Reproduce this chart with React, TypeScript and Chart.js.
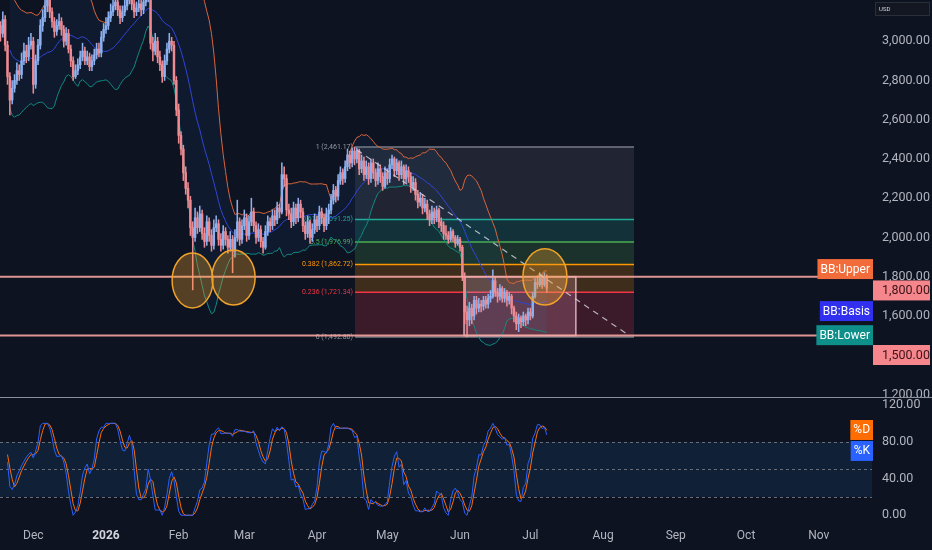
import { useEffect, useRef } from "react";
import { Chart, registerables } from "chart.js";
Chart.register(...registerables);

// ---------------- DATA ----------------
// Daily candles, day index 0 = 1 Jan 2026
const START_DAY = -46;
const FIRST_OPEN = 3050;
const closes = [
  3080, 3040, 3110, 2980, 2820, 2700, 2760, 2800, 2850, 2830,
  2900, 2950, 2920, 2980, 3000, 2780, 2900, 2980, 3080, 3120,
  3180, 3220, 3150, 3100, 3050, 3080, 3100, 3060, 3000, 3040,
  2960, 2900, 2820, 2850, 2880, 2920, 2950, 2900, 2920, 2870,
  2900, 2930, 2960, 2940, 3020, 3060, 3080, 3120, 3150, 3180,
  3200, 3160, 3120, 3150, 3180, 3210, 3230, 3190, 3150, 3170,
  3190, 3160, 3200, 3220, 3230, 2990, 2950, 3000, 2920, 2880,
  2820, 2900, 2960, 3000, 2980, 2800, 2650, 2520, 2450, 2330,
  2250, 2190, 2050, 2000, 2100, 2050, 2120, 2020, 1980, 2080,
  2010, 1960, 2050, 2070, 1990, 1960, 2030, 1990, 1950, 1990,
  1930, 2000, 2080, 1990, 2060, 2100, 2010, 2080, 2130, 2060,
  2000, 2040, 1980, 1950, 2030, 2080, 2060, 2110, 2090, 2150,
  2130, 2320, 2300, 2140, 2120, 2080, 2150, 2100, 2170, 2130,
  2060, 2020, 2080, 2000, 2040, 2090, 2060, 2130, 2100, 2060,
  2120, 2140, 2190, 2240, 2210, 2290, 2330, 2300, 2360, 2420,
  2380, 2440, 2400, 2440, 2350, 2390, 2320, 2360, 2300, 2380,
  2330, 2290, 2350, 2310, 2260, 2330, 2300, 2370, 2400, 2340,
  2380, 2320, 2360, 2300, 2340, 2310, 2260, 2280, 2220, 2180,
  2200, 2150, 2170, 2120, 2090, 2130, 2100, 2140, 2080, 2060, 2020,
  2010, 1990, 2030, 2000, 1970, 1990, 1950, 1800, 1620, 1580,
  1640, 1600, 1680, 1640, 1660, 1650, 1680, 1660, 1690, 1700,
  1780, 1720, 1700, 1740, 1690, 1720, 1680, 1700, 1640, 1600,
  1560, 1590, 1570, 1600, 1580, 1620, 1600, 1700, 1770, 1760,
  1790, 1760, 1800, 1740,
];
const highs = [
  3120, 3100, 3150, 3130, 3000, 2840, 2800, 2830, 2890, 2880,
  2940, 2990, 2980, 3020, 3040, 3020, 2930, 3010, 3110, 3160,
  3230, 3260, 3240, 3170, 3120, 3110, 3140, 3120, 3080, 3070,
  3060, 2980, 2920, 2880, 2910, 2950, 2990, 2970, 2950, 2940,
  2930, 2960, 2990, 2990, 3050, 3090, 3120, 3150, 3190, 3220,
  3240, 3220, 3180, 3180, 3210, 3250, 3270, 3250, 3210, 3200,
  3220, 3210, 3230, 3260, 3270, 3250, 3020, 3040, 3020, 2950,
  2900, 2930, 2990, 3040, 3020, 3000, 2820, 2680, 2540, 2470,
  2360, 2280, 2210, 2080, 2150, 2130, 2160, 2140, 2050, 2110,
  2100, 2040, 2090, 2110, 2090, 2020, 2060, 2050, 2010, 2030,
  2010, 2040, 2190, 2100, 2090, 2140, 2120, 2110, 2200, 2150,
  2080, 2070, 2060, 2000, 2060, 2110, 2100, 2140, 2140, 2180,
  2170, 2380, 2360, 2320, 2170, 2150, 2180, 2170, 2200, 2190,
  2150, 2080, 2110, 2090, 2070, 2120, 2110, 2160, 2150, 2120,
  2150, 2170, 2220, 2270, 2260, 2320, 2360, 2350, 2390, 2450,
  2440, 2455, 2461, 2455, 2450, 2420, 2410, 2390, 2380, 2400,
  2400, 2350, 2380, 2370, 2330, 2360, 2350, 2400, 2420, 2410,
  2400, 2390, 2390, 2370, 2370, 2360, 2330, 2310, 2300, 2240,
  2230, 2220, 2200, 2190, 2140, 2160, 2150, 2160, 2150, 2100, 2080,
  2060, 2030, 2050, 2040, 2010, 2010, 2000, 1960, 1820, 1650,
  1670, 1660, 1700, 1700, 1690, 1680, 1700, 1700, 1710, 1730,
  1835, 1800, 1740, 1760, 1750, 1740, 1730, 1720, 1710, 1650,
  1620, 1610, 1600, 1620, 1610, 1640, 1640, 1720, 1790, 1800,
  1820, 1810, 1820, 1810,
];
const lows = [
  3020, 3000, 3020, 2950, 2780, 2625, 2680, 2740, 2780, 2800,
  2810, 2880, 2890, 2900, 2960, 2735, 2760, 2880, 2960, 3050,
  3100, 3150, 3120, 3070, 3020, 3030, 3060, 3030, 2970, 2980,
  2940, 2870, 2800, 2810, 2830, 2860, 2900, 2880, 2880, 2850,
  2850, 2880, 2910, 2920, 2920, 3000, 3040, 3060, 3100, 3130,
  3160, 3130, 3090, 3100, 3130, 3160, 3190, 3160, 3120, 3130,
  3150, 3130, 3140, 3180, 3200, 2960, 2900, 2930, 2890, 2850,
  2790, 2800, 2880, 2940, 2950, 2780, 2620, 2480, 2420, 2290,
  2220, 2150, 2010, 1733, 1980, 2020, 2030, 1990, 1950, 1960,
  1980, 1930, 1940, 2030, 1960, 1930, 1940, 1960, 1920, 1930,
  1820, 1900, 1980, 1960, 1970, 2040, 1980, 1990, 2060, 2030,
  1970, 1980, 1950, 1920, 1940, 2010, 2030, 2040, 2060, 2070,
  2100, 2120, 2260, 2110, 2090, 2050, 2060, 2070, 2080, 2100,
  2030, 1990, 2000, 1970, 1980, 2020, 2030, 2040, 2070, 2030,
  2040, 2070, 2120, 2170, 2180, 2190, 2270, 2270, 2280, 2340,
  2350, 2360, 2370, 2380, 2320, 2330, 2290, 2300, 2270, 2280,
  2300, 2260, 2270, 2280, 2240, 2250, 2270, 2280, 2350, 2310,
  2320, 2290, 2300, 2270, 2280, 2280, 2230, 2240, 2190, 2150,
  2160, 2120, 2130, 2090, 2060, 2070, 2070, 2080, 2050, 2030, 1990,
  1990, 1970, 1980, 1980, 1950, 1960, 1930, 1780, 1560, 1493,
  1550, 1560, 1580, 1610, 1620, 1620, 1630, 1640, 1640, 1670,
  1690, 1700, 1670, 1680, 1670, 1670, 1650, 1660, 1610, 1570,
  1530, 1520, 1540, 1550, 1550, 1560, 1580, 1590, 1690, 1740,
  1750, 1740, 1750, 1720,
];

const monthTicks = [-31, 0, 31, 59, 90, 120, 151, 181, 212, 243, 273, 304];
const monthLabels = ["Dec", "2026", "Feb", "Mar", "Apr", "May", "Jun", "Jul", "Aug", "Sep", "Oct", "Nov"];
const priceTicks = [1200, 1400, 1600, 1800, 2000, 2200, 2400, 2600, 2800, 3000];
const stochTicks = [0, 40, 80, 120];
const stochBands = [20, 50, 80];

const fibHigh = 2461.17;
const fibLow = 1492.8;
const fibRatios = [1, 0.618, 0.5, 0.382, 0.236, 0];
const fibDays = [106.2, 225.2];
const boxDays = [152.7, 200.4];
const boxValues = [1500, 1800];
const levelLines = [1800, 1500];
const trendDays = [107, 222.2];
const trendValues = [2446, 1508];
const circleDays = [36.9, 54.4, 187.2];
const circleValues = [1781, 1796, 1799];
const circleRadiusDays = [8.7, 9.2, 9.4];
const circleRadiusValues = [140, 140, 143];

// label anchors (display positions of the right-hand tags)
const bbTagTexts = ["BB:Upper", "BB:Basis", "BB:Lower"];
const bbTagValues = [1839, 1625, 1502];
const priceTagTexts = ["1,800.00", "1,500.00"];
const priceTagValues = [1730, 1401];
const stochTagTexts = ["%D", "%K"];
const stochTagValues = [92.8, 70];

// ---------------- STYLE ----------------
const BG = "#0e1322";
const FONT = "Roboto, 'Noto Sans', sans-serif";
const X_MIN = -45.2;
const X_MAX = 326.7;
const AXIS_W = 60;
const UP = "#8db0ee";
const DOWN = "#ee8a91";
const fibColors = ["#787b86", "#22ab94", "#4caf50", "#ff9800", "#f23645", "#787b86"];
const fibFills = ["rgba(120,123,134,0.18)", "rgba(34,171,148,0.2)", "rgba(76,175,80,0.2)", "rgba(255,152,0,0.2)", "rgba(242,54,69,0.2)"];
const bbTagColors = ["#f26b3a", "#3030ee", "#0e8f8a"];
const stochTagColors = ["#ff6d00", "#2962ff"];

const fmt = (v: number) => v.toLocaleString("en-US", { minimumFractionDigits: 2, maximumFractionDigits: 2 });

// ---------------- DERIVED ----------------
const days = closes.map((_, i) => START_DAY + i);
const opens = closes.map((_, i) => (i === 0 ? FIRST_OPEN : closes[i - 1]));
const candleColors = closes.map((c, i) => (c >= opens[i] ? UP : DOWN));
const wickData = closes.map((_, i) => ({ x: days[i], y: [lows[i], highs[i]] }));
const bodyData = closes.map((c, i) => ({ x: days[i], y: [Math.min(opens[i], c), Math.max(opens[i], c)] }));

const bbUpper: any[] = [];
const bbBasis: any[] = [];
const bbLower: any[] = [];
for (let i = 5; i < closes.length; i++) {
  const w = closes.slice(Math.max(0, i - 19), i + 1);
  const m = w.reduce((a, b) => a + b, 0) / w.length;
  const sd = Math.sqrt(w.reduce((a, b) => a + (b - m) * (b - m), 0) / w.length);
  bbUpper.push({ x: days[i], y: m + 2 * sd });
  bbBasis.push({ x: days[i], y: m });
  bbLower.push({ x: days[i], y: m - 2 * sd });
}

const rsi: number[] = [];
{
  let ag = 0;
  let al = 0;
  for (let i = 1; i < closes.length; i++) {
    const ch = closes[i] - closes[i - 1];
    const n = Math.min(i, 14);
    ag = (ag * (n - 1) + Math.max(ch, 0)) / n;
    al = (al * (n - 1) + Math.max(-ch, 0)) / n;
    rsi[i] = al === 0 ? 100 : 100 - 100 / (1 + ag / al);
  }
}
const stoch: number[] = [];
const kArr: number[] = [];
const dArr: number[] = [];
for (let i = 1; i < closes.length; i++) {
  const w = rsi.slice(Math.max(1, i - 13), i + 1);
  const mn = Math.min(...w);
  const mx = Math.max(...w);
  stoch[i] = mx === mn ? 50 : ((rsi[i] - mn) / (mx - mn)) * 100;
  const ks = stoch.slice(Math.max(1, i - 2), i + 1);
  kArr[i] = ks.reduce((a, b) => a + b, 0) / ks.length;
  const ds = kArr.slice(Math.max(1, i - 2), i + 1);
  dArr[i] = ds.reduce((a, b) => a + b, 0) / ds.length;
}
const kData: any[] = [];
const dData: any[] = [];
for (let i = 4; i < closes.length; i++) {
  kData.push({ x: days[i], y: kArr[i] });
  dData.push({ x: days[i], y: dArr[i] });
}

// ---------------- PLUGINS ----------------
function tag(ctx: CanvasRenderingContext2D, text: string, right: number, cy: number, bg: string, fg: string, size: number, padX: number, h: number) {
  ctx.font = `${size}px ${FONT}`;
  const w = ctx.measureText(text).width + padX * 2;
  ctx.fillStyle = bg;
  ctx.fillRect(right - w, cy - h / 2, w, h);
  ctx.fillStyle = fg;
  ctx.textAlign = "center";
  ctx.textBaseline = "middle";
  ctx.fillText(text, right - w / 2, cy + 0.5);
}

const priceBackPlugin = {
  id: "priceBack",
  beforeDatasetsDraw(chart: any) {
    const { ctx, scales } = chart;
    const x = scales.x;
    const y = scales.y;
    const x0 = x.getPixelForValue(fibDays[0]);
    const x1 = x.getPixelForValue(fibDays[1]);
    const lv = fibRatios.map((r) => fibLow + r * (fibHigh - fibLow));
    ctx.save();
    for (let i = 0; i < lv.length - 1; i++) {
      const ya = y.getPixelForValue(lv[i]);
      const yb = y.getPixelForValue(lv[i + 1]);
      ctx.fillStyle = fibFills[i];
      ctx.fillRect(x0, ya, x1 - x0, yb - ya);
    }
    lv.forEach((v, i) => {
      const py = y.getPixelForValue(v);
      ctx.strokeStyle = fibColors[i];
      ctx.lineWidth = 1.5;
      ctx.beginPath();
      ctx.moveTo(x0, py);
      ctx.lineTo(x1, py);
      ctx.stroke();
      ctx.font = `7px ${FONT}`;
      ctx.textAlign = "right";
      ctx.textBaseline = "middle";
      ctx.fillStyle = i === 0 || i === lv.length - 1 ? "#9598a1" : fibColors[i];
      ctx.fillText(`${fibRatios[i]} (${fmt(v)})`, x0 - 2, py);
    });
    // pink range box
    const bx0 = x.getPixelForValue(boxDays[0]);
    const bx1 = x.getPixelForValue(boxDays[1]);
    const by0 = y.getPixelForValue(boxValues[1]);
    const by1 = y.getPixelForValue(boxValues[0]);
    ctx.fillStyle = "rgba(247,165,190,0.22)";
    ctx.fillRect(bx0, by0, bx1 - bx0, by1 - by0);
    ctx.strokeStyle = "rgba(240,195,210,0.85)";
    ctx.lineWidth = 1.5;
    ctx.strokeRect(bx0, by0, bx1 - bx0, by1 - by0);
    ctx.restore();
  },
  afterDatasetsDraw(chart: any) {
    const { ctx, scales } = chart;
    const x = scales.x;
    const y = scales.y;
    ctx.save();
    circleDays.forEach((d, i) => {
      const cx = x.getPixelForValue(d);
      const cy = y.getPixelForValue(circleValues[i]);
      const rx = Math.abs(x.getPixelForValue(d + circleRadiusDays[i]) - cx);
      const ry = Math.abs(y.getPixelForValue(circleValues[i] + circleRadiusValues[i]) - cy);
      ctx.beginPath();
      ctx.ellipse(cx, cy, rx, ry, 0, 0, Math.PI * 2);
      ctx.fillStyle = "rgba(240,163,42,0.32)";
      ctx.fill();
      ctx.strokeStyle = "#f0a32a";
      ctx.lineWidth = 1.5;
      ctx.stroke();
    });
    ctx.restore();
  },
  afterDraw(chart: any) {
    const { ctx, scales, chartArea, width } = chart;
    const y = scales.y;
    ctx.save();
    ctx.font = `12.5px ${FONT}`;
    ctx.fillStyle = "#b2b5be";
    ctx.textAlign = "left";
    ctx.textBaseline = "middle";
    priceTicks.forEach((v) => ctx.fillText(fmt(v), chartArea.right + 10, y.getPixelForValue(v)));
    bbTagTexts.forEach((t, i) => tag(ctx, t, chartArea.right + 1, y.getPixelForValue(bbTagValues[i]), bbTagColors[i], "#ffffff", 12, 3, 20));
    priceTagTexts.forEach((t, i) => {
      ctx.font = `12.5px ${FONT}`;
      const cy = y.getPixelForValue(priceTagValues[i]);
      ctx.fillStyle = "#f4868c";
      ctx.fillRect(chartArea.right + 1, cy - 10, width - chartArea.right - 3, 20);
      ctx.fillStyle = "#3a1218";
      ctx.textAlign = "left";
      ctx.textBaseline = "middle";
      ctx.fillText(t, chartArea.right + 10, cy + 0.5);
    });
    // USD box
    ctx.fillStyle = "#131722";
    ctx.fillRect(chartArea.right + 3.5, 2.5, 54, 13);
    ctx.strokeStyle = "#2a2e39";
    ctx.lineWidth = 1;
    ctx.strokeRect(chartArea.right + 3.5, 2.5, 54, 13);
    ctx.font = `6px ${FONT}`;
    ctx.fillStyle = "#d1d4dc";
    ctx.textAlign = "left";
    ctx.fillText("USD", chartArea.right + 7, 9.5);
    ctx.restore();
  },
};

const stochPlugin = {
  id: "stochDeco",
  beforeDatasetsDraw(chart: any) {
    const { ctx, scales, chartArea } = chart;
    const y = scales.y;
    const y80 = y.getPixelForValue(stochBands[2]);
    const y20 = y.getPixelForValue(stochBands[0]);
    ctx.save();
    ctx.fillStyle = "rgba(33,150,243,0.1)";
    ctx.fillRect(chartArea.left, y80, chartArea.right - chartArea.left, y20 - y80);
    ctx.strokeStyle = "#6a6d78";
    ctx.lineWidth = 1;
    ctx.setLineDash([3, 3]);
    stochBands.forEach((v) => {
      const py = Math.round(y.getPixelForValue(v)) + 0.5;
      ctx.beginPath();
      ctx.moveTo(chartArea.left, py);
      ctx.lineTo(chartArea.right, py);
      ctx.stroke();
    });
    ctx.restore();
  },
  afterDraw(chart: any) {
    const { ctx, scales, chartArea, width } = chart;
    const y = scales.y;
    ctx.save();
    ctx.strokeStyle = "#8b8e98";
    ctx.lineWidth = 1;
    ctx.beginPath();
    ctx.moveTo(0, 0.5);
    ctx.lineTo(width, 0.5);
    ctx.stroke();
    ctx.font = `12.5px ${FONT}`;
    ctx.fillStyle = "#b2b5be";
    ctx.textAlign = "left";
    ctx.textBaseline = "middle";
    stochTicks.forEach((v) => ctx.fillText(fmt(v), chartArea.right + 10, y.getPixelForValue(v)));
    stochTagTexts.forEach((t, i) => tag(ctx, t, chartArea.right + 1, y.getPixelForValue(stochTagValues[i]), stochTagColors[i], "#ffffff", 12, 3, 20));
    ctx.restore();
  },
};

// ---------------- COMPONENT ----------------
export default function App() {
  const priceRef = useRef<HTMLCanvasElement>(null);
  const stochRef = useRef<HTMLCanvasElement>(null);

  useEffect(() => {
    document.body.style.margin = "0";
    document.body.style.background = BG;

    const lineBase = { type: "line" as const, pointRadius: 0, borderWidth: 1, tension: 0 };
    const priceChart = new Chart(priceRef.current as HTMLCanvasElement, {
      type: "bar",
      data: {
        datasets: [
          { ...lineBase, label: "BB Upper", data: bbUpper, borderColor: "#d8653c", fill: { target: 2, above: "rgba(33,150,243,0.06)", below: "rgba(33,150,243,0.06)" }, order: 4 },
          { ...lineBase, label: "BB Basis", data: bbBasis, borderColor: "#3340d8", fill: false, order: 4 },
          { ...lineBase, label: "BB Lower", data: bbLower, borderColor: "#138a7c", fill: false, order: 4 },
          { type: "bar", label: "Wicks", data: wickData as any, backgroundColor: candleColors, barThickness: 0.9, grouped: false, order: 3 },
          { type: "bar", label: "Bodies", data: bodyData as any, backgroundColor: candleColors, barThickness: 1.8, minBarLength: 1, grouped: false, order: 2 },
          { ...lineBase, label: "Trend", data: trendDays.map((d, i) => ({ x: d, y: trendValues[i] })), borderColor: "rgba(215,215,225,0.8)", borderDash: [6, 5], borderWidth: 1.2, fill: false, order: 0 },
          ...levelLines.map((v) => ({ ...lineBase, label: `Level ${v}`, data: [{ x: X_MIN, y: v }, { x: X_MAX, y: v }], borderColor: "rgba(244,165,160,0.9)", borderWidth: 2, fill: false, order: 0 })),
        ] as any,
      },
      options: {
        responsive: false,
        animation: false,
        events: [],
        layout: { padding: 0 },
        plugins: { legend: { display: false }, tooltip: { enabled: false } },
        scales: {
          x: { type: "linear", min: X_MIN, max: X_MAX, offset: false, display: false },
          y: {
            position: "right",
            min: 1187,
            max: 3210,
            grid: { display: false, drawTicks: false },
            border: { display: false },
            ticks: { display: false },
            afterFit: (s: any) => { s.width = AXIS_W; },
          },
        },
      } as any,
      plugins: [priceBackPlugin],
    });

    const stochChart = new Chart(stochRef.current as HTMLCanvasElement, {
      type: "line",
      data: {
        datasets: [
          { label: "%K", data: kData, borderColor: "#2962ff", borderWidth: 1, pointRadius: 0, tension: 0 },
          { label: "%D", data: dData, borderColor: "#ff6d00", borderWidth: 1, pointRadius: 0, tension: 0 },
        ],
      },
      options: {
        responsive: false,
        animation: false,
        events: [],
        layout: { padding: 0 },
        plugins: { legend: { display: false }, tooltip: { enabled: false } },
        scales: {
          x: {
            type: "linear",
            min: X_MIN,
            max: X_MAX,
            offset: false,
            grid: { display: false, drawTicks: false },
            border: { display: false },
            afterBuildTicks: (s: any) => { s.ticks = monthTicks.map((v) => ({ value: v })); },
            afterFit: (s: any) => { s.height = 26; },
            ticks: {
              autoSkip: false,
              maxRotation: 0,
              padding: 5,
              callback: (_v: any, i: number) => monthLabels[i],
              color: (c: any) => (c.tick && c.tick.value === 0 ? "#d1d4dc" : "#b2b5be"),
              font: (c: any) => ({ family: FONT, size: 12, weight: c.tick && c.tick.value === 0 ? "bold" : "normal" }),
            },
          },
          y: {
            position: "right",
            min: -9.5,
            max: 128.7,
            grid: { display: false, drawTicks: false },
            border: { display: false },
            ticks: { display: false },
            afterFit: (s: any) => { s.width = AXIS_W; },
          },
        },
      } as any,
      plugins: [stochPlugin],
    });

    return () => {
      priceChart.destroy();
      stochChart.destroy();
    };
  }, []);

  return (
    <div style={{ width: 932, height: 550, background: BG, overflow: "hidden" }}>
      <canvas ref={priceRef} width={932} height={397} style={{ display: "block", width: 932, height: 397 }} />
      <canvas ref={stochRef} width={932} height={153} style={{ display: "block", width: 932, height: 153 }} />
    </div>
  );
}
